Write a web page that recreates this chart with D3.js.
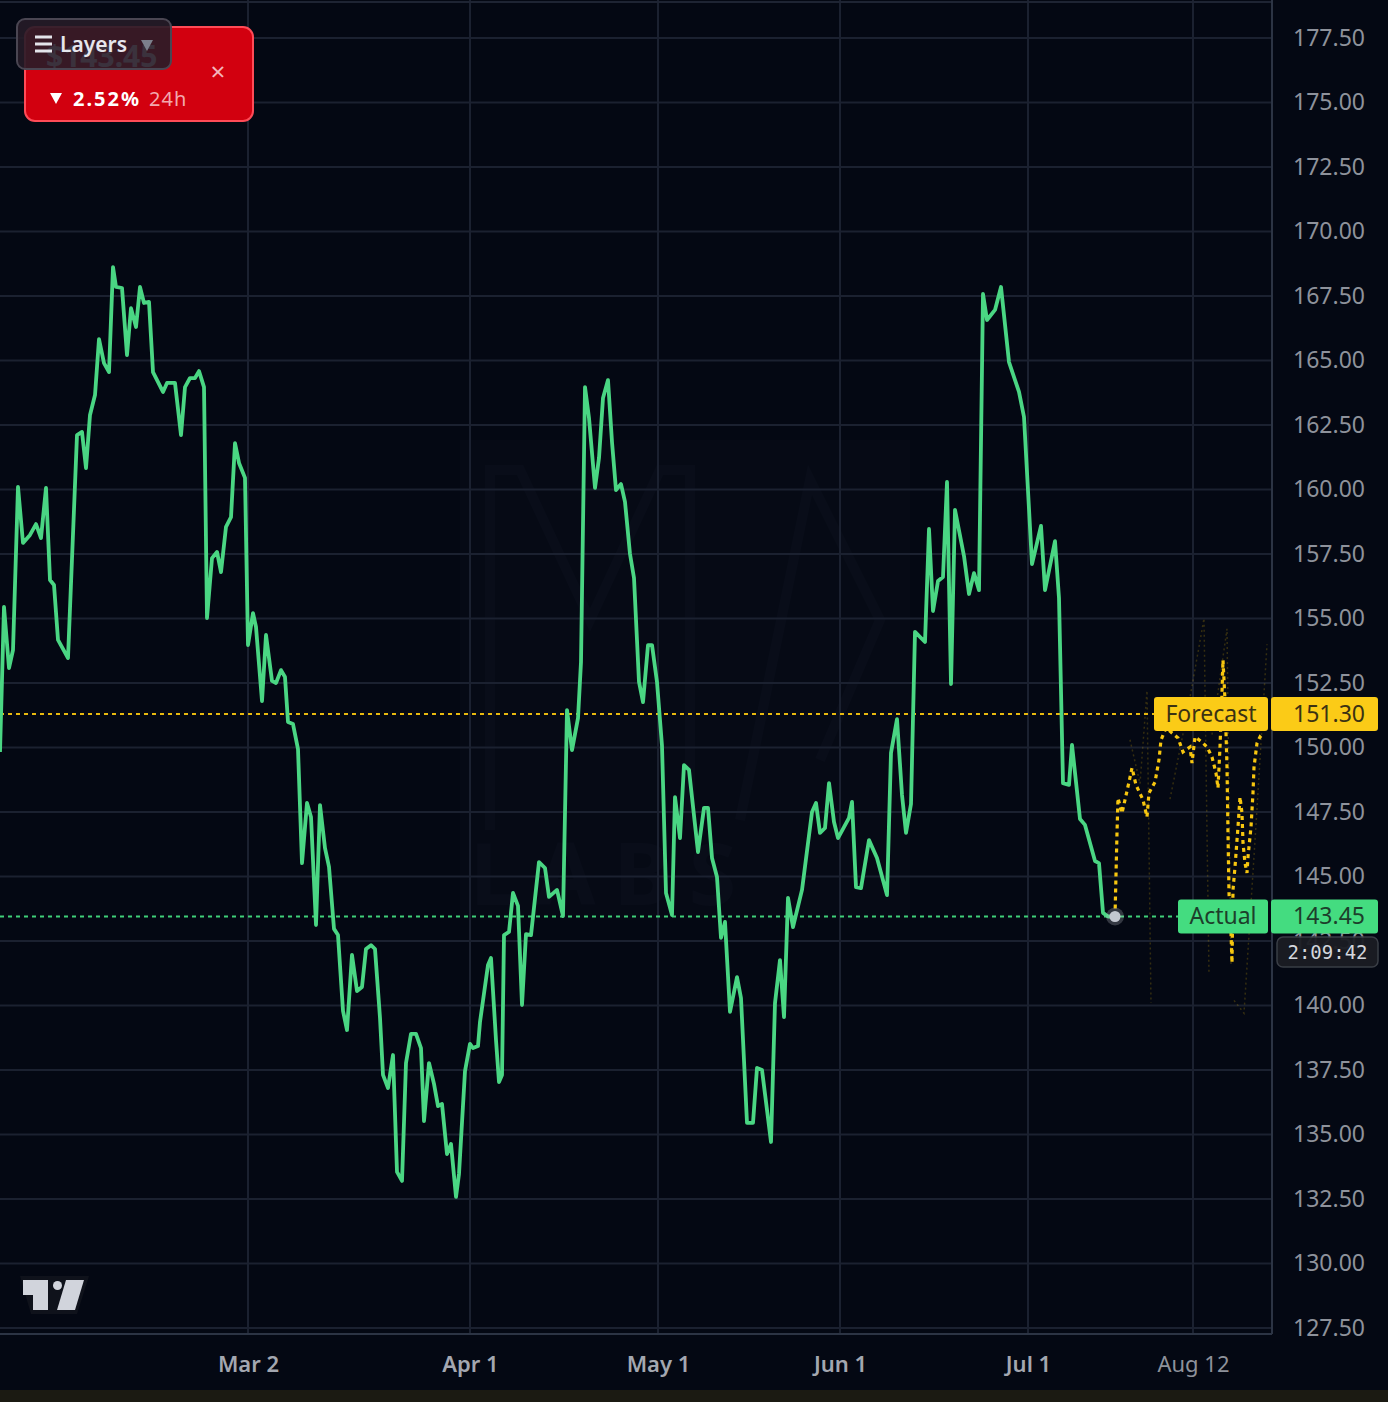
<!DOCTYPE html>
<html>
<head>
<meta charset="utf-8">
<title>Price forecast</title>
<script src="https://cdn.jsdelivr.net/npm/d3@7/dist/d3.min.js"></script>
<style>
  body { margin: 0; background: #040813; }
  svg { display: block; font-family: "Noto Sans", sans-serif; }
</style>
</head>
<body>
<div id="root"></div>
<script>
// ---- data ----
// price axis ticks
const priceTicks = [127.5, 130, 132.5, 135, 137.5, 140, 142.5, 145, 147.5, 150, 152.5, 155,
  157.5, 160, 162.5, 165, 167.5, 170, 172.5, 175, 177.5];
// time axis ticks (bar index) and labels
const dateTicks = [124, 235, 329, 420, 514, 596.5];
const dateLabels = ["Mar 2", "Apr 1", "May 1", "Jun 1", "Jul 1", "Aug 12"];
const dateBold = [true, true, true, true, true, false];

// actual price path: [bar, price]
const actual = [[0,149.83],[2,155.45],[4.5,153.08],[6.5,153.78],[9,160.10],[11.5,157.93],[15,158.24],[18,158.66],
  [20.5,158.12],[23,160.06],[25,156.49],[27,156.30],[29,154.17],[34,153.47],[38.5,162.11],[41,162.23],[43,160.83],
  [45,162.89],[47.5,163.66],[49.5,165.83],[52,164.90],[54.5,164.55],[56.5,168.62],[58,167.85],[61,167.81],
  [63.5,165.21],[65.5,167.03],[68,166.30],[70,167.85],[72,167.23],[74.5,167.27],[76.5,164.55],[81.5,163.78],
  [83.5,164.13],[87.5,164.13],[90.5,162.11],[92.5,163.97],[95,164.32],[97.5,164.32],[99.5,164.59],[102,163.97],
  [103.5,155.02],[106,157.34],[108.5,157.58],[110.5,156.80],[113,158.55],[115.5,158.93],[117.5,161.80],
  [119.5,161.03],[122.5,160.45],[124,153.97],[126.5,155.21],[128,154.67],[131,151.80],[133,154.36],[136,152.58],
  [138,152.50],[140.5,153.00],[142.5,152.73],[144,150.99],[146.5,150.91],[149,149.94],[151,145.52],[153.5,147.85],
  [155.5,147.31],[158,143.12],[160,147.77],[162.5,146.10],[164.5,145.37],[167,142.97],[169,142.73],[171.5,139.79],
  [173.5,139.05],[176,141.96],[178.5,140.56],[181,140.72],[183,142.19],[185.5,142.34],[187.5,142.19],[190,139.52],
  [191.5,137.31],[194,136.80],[196.5,138.08],[198.5,133.55],[201,133.20],[203,137.77],[205.5,138.90],[208,138.90],
  [210.5,138.35],[212,135.52],[214.5,137.77],[217,136.96],[219,136.10],[221,136.18],[223.5,134.24],[225.5,134.63],
  [228,132.58],[229.5,133.47],[232.5,137.46],[235,138.51],[236.5,138.35],[239,138.43],[240,139.36],[244,141.57],
  [245.5,141.84],[248,138.66],[249.5,137.03],[251,137.31],[252,142.73],[254.5,142.85],[256.5,144.36],[259,143.86],
  [261,140.02],[263,142.77],[265.5,142.73],[269.5,145.56],[272.5,145.33],[274.5,144.21],[278.5,144.48],
  [281.5,143.47],[283.5,151.45],[286,149.90],[289,151.14],[290.5,153.31],[292.5,163.97],[294.5,162.77],
  [297.5,160.06],[299.5,161.22],[301.5,163.55],[304,164.24],[306,161.84],[308,159.98],[310.5,160.21],
  [312.5,159.52],[315,157.50],[317,156.57],[319.5,152.54],[321.5,151.76],[324,153.97],[326,153.97],[328.5,152.54],
  [331,150.06],[333,144.36],[336,143.51],[337.5,148.08],[340,146.49],[342,149.32],[344.5,149.13],[349,145.95],
  [352,147.66],[354,147.66],[356,145.72],[358.5,144.98],[360.5,142.62],[362.5,143.24],[365,139.75],[368.5,141.10],
  [370.5,140.29],[373.5,135.45],[376.5,135.45],[378.5,137.58],[381,137.50],[385.5,134.71],[387.5,140.10],
  [390,141.76],[392,139.55],[394,144.17],[396.5,143.04],[401,144.48],[406,147.50],[408,147.85],[410,146.69],
  [412.5,146.88],[414.5,148.62],[417,147.11],[419,146.49],[424.5,147.27],[426,147.89],[428,144.59],[430.5,144.55],
  [434.5,146.41],[438.5,145.72],[443.5,144.28],[445.5,149.79],[448.5,151.10],[451,148.16],[453,146.69],
  [455.5,147.81],[457.5,154.48],[462.5,154.09],[464.5,158.47],[466.5,155.29],[469,156.45],[471.5,156.61],
  [473.5,160.29],[475.5,152.46],[477.5,159.21],[482,157.42],[484.5,155.95],[487,156.76],[489.5,156.10],
  [491.5,167.58],[493.5,166.57],[497.5,166.96],[500.5,167.85],[504.5,164.94],[509.5,163.78],[512,162.81],
  [516,157.11],[520.5,158.59],[522.5,156.10],[527.5,158.00],[529.5,155.79],[531.5,148.62],[534.5,148.55],
  [536,150.10],[540,147.23],[542.5,147.00],[547.5,145.60],[549.5,145.52],[551.5,143.59],[554,143.45],[557.5,143.45]];

// main forecast path: [bar, price]
const forecast = [[557.5,143.45],[558.5,146.69],[559,148.04],[561,147.46],[562.5,147.97],[564.5,148.66],[566,149.21],
  [568,148.55],[571.5,147.97],[573.5,147.31],[574.5,148.24],[577.5,148.66],[579.5,149.52],[580.5,150.29],
  [583,150.76],[589,150.37],[591.5,149.83],[595,150.02],[596,149.40],[597.5,150.41],[601,150.21],[603.5,150.02],
  [606,149.63],[608,149.01],[609,148.43],[610,150.02],[611,152.11],[611.5,153.39],[612.5,151.84],[613,150.56],
  [613.5,149.24],[614,146.69],[614.5,144.36],[615.5,142.81],[616,141.65],[616.5,144.48],[617.5,145.37],
  [618.5,146.41],[619,146.92],[620,148.08],[621,147.46],[621.5,146.30],[622.5,145.52],[623.5,145.14],
  [624,145.76],[625.5,146.92],[626.5,148.24],[627,149.24],[628.5,150.17],[630,150.41],[631.5,150.29]];

// faint alternative forecast paths
const ensembleA = [[565,150.3],[570,148.6],[573.5,152.2],[575.5,140.1]];
const ensembleB = [[585,148.0],[594,151.5],[602,155.0],[604.5,141.2]];
const ensembleC = [[606,150.5],[613.5,154.6],[615.5,141.6]];
const ensembleD = [[617,140.2],[622,139.7],[628,147.0],[633.5,154.0]];

const lastPrice = 143.45;
const forecastPrice = 151.30;
const change24h = "2.52%";
const countdown = "2:09:42";

// ---- layout ----
const width = 1388;
const height = 1402;
const plotRight = 1272;
const plotBottom = 1334;

const x = d3.scaleLinear().domain([0, 636]).range([0, plotRight]);
const y = d3.scaleLinear().domain([127.5, 177.5]).range([1328, 38]);
const fmt = d3.format(".2f");

const svg = d3.select("#root").append("svg")
  .attr("width", width)
  .attr("height", height);

svg.append("rect").attr("width", width).attr("height", height).attr("fill", "#040813");
svg.append("rect").attr("y", 1390).attr("width", width).attr("height", 12).attr("fill", "#1b1a12");

// faint watermark
const wm = svg.append("g").attr("opacity", 0.035).attr("fill", "none").attr("stroke", "#8c96b4").attr("stroke-width", 10);
wm.append("rect").attr("x", 460).attr("y", 440).attr("width", 450).attr("height", 480)
  .attr("fill", "#8c96b4").attr("stroke", "none").attr("opacity", 0.4);
wm.append("path").attr("d", "M490,830 L490,470 L520,470 L590,620 L660,470 L690,470 L690,830");
wm.append("path").attr("d", "M740,820 L810,480 L880,620 L820,760");
wm.append("text").attr("x", 470).attr("y", 905).attr("font-size", 86).attr("font-weight", 700)
  .attr("fill", "#8c96b4").attr("stroke", "none").attr("letter-spacing", 18).text("LABS");

// grid
const grid = svg.append("g").attr("stroke", "#1b2130").attr("stroke-width", 2);
grid.selectAll(".hg").data(priceTicks).enter().append("line")
  .attr("x1", 0).attr("x2", plotRight)
  .attr("y1", d => y(d)).attr("y2", d => y(d));
grid.selectAll(".vg").data(dateTicks).enter().append("line")
  .attr("x1", d => x(d)).attr("x2", d => x(d))
  .attr("y1", 0).attr("y2", plotBottom);

// frame
svg.append("line").attr("x1", 0).attr("x2", plotRight).attr("y1", 2).attr("y2", 2)
  .attr("stroke", "#1e2433").attr("stroke-width", 2);
svg.append("line").attr("x1", plotRight).attr("x2", plotRight).attr("y1", 0).attr("y2", plotBottom)
  .attr("stroke", "#2c3444").attr("stroke-width", 2);
svg.append("line").attr("x1", 0).attr("x2", plotRight).attr("y1", plotBottom).attr("y2", plotBottom)
  .attr("stroke", "#2c3444").attr("stroke-width", 2);

// price reference lines
svg.append("line").attr("x1", 0).attr("x2", 1154)
  .attr("y1", y(forecastPrice)).attr("y2", y(forecastPrice))
  .attr("stroke", "#e8b90f").attr("stroke-width", 2).attr("stroke-dasharray", "4,4");
svg.append("line").attr("x1", 0).attr("x2", 1178)
  .attr("y1", y(lastPrice)).attr("y2", y(lastPrice))
  .attr("stroke", "#3fcf78").attr("stroke-width", 2).attr("stroke-dasharray", "4,4");

const line = d3.line().x(d => x(d[0])).y(d => y(d[1]));

// ensemble paths
svg.selectAll(".ens").data([ensembleA, ensembleB, ensembleC, ensembleD]).enter().append("path")
  .attr("d", line)
  .attr("fill", "none")
  .attr("stroke", "#c9a10c")
  .attr("stroke-width", 1.5)
  .attr("stroke-dasharray", "2,3")
  .attr("opacity", 0.25);

// forecast
svg.append("path").datum(forecast)
  .attr("d", line)
  .attr("fill", "none")
  .attr("stroke", "#f7c60f")
  .attr("stroke-width", 3.2)
  .attr("stroke-dasharray", "4,4");

// actual
svg.append("path").datum(actual)
  .attr("d", line)
  .attr("fill", "none")
  .attr("stroke", "#4ad683")
  .attr("stroke-width", 3.8)
  .attr("stroke-linejoin", "round");

const last = actual[actual.length - 1];
svg.append("circle").attr("cx", x(last[0])).attr("cy", y(last[1])).attr("r", 9)
  .attr("fill", "#c3c7d0").attr("opacity", 0.25);
svg.append("circle").attr("cx", x(last[0])).attr("cy", y(last[1])).attr("r", 5.5)
  .attr("fill", "#c3c7d0");

// price axis
const yAxis = svg.append("g")
  .attr("transform", "translate(" + plotRight + ",0)")
  .call(d3.axisRight(y).tickValues(priceTicks).tickFormat(fmt).tickSize(0).tickPadding(21));
yAxis.select(".domain").remove();
yAxis.selectAll("text")
  .attr("font-family", "Noto Sans, sans-serif")
  .attr("font-size", 23)
  .attr("fill", "#8e929b");

// time axis
const xAxis = svg.append("g")
  .attr("transform", "translate(0," + plotBottom + ")")
  .call(d3.axisBottom(x).tickValues(dateTicks).tickFormat((d, i) => dateLabels[i]).tickSize(0).tickPadding(0));
xAxis.select(".domain").remove();
xAxis.selectAll("text")
  .attr("y", 38)
  .attr("dy", 0)
  .attr("font-family", "Noto Sans, sans-serif")
  .attr("font-size", 22)
  .attr("font-weight", (d, i) => dateBold[i] ? 600 : 400)
  .attr("fill", (d, i) => dateBold[i] ? "#a3a7b0" : "#8e929b");

// tags
function tag(x0, w, yc, fill, label, color) {
  svg.append("rect").attr("x", x0).attr("y", yc - 17).attr("width", w).attr("height", 34)
    .attr("rx", 3).attr("fill", fill);
  svg.append("text").attr("x", x0 + w / 2).attr("y", yc + 8).attr("text-anchor", "middle")
    .attr("font-size", 23).attr("fill", color).text(label);
}
function priceTag(yc, fill, value, color) {
  svg.append("rect").attr("x", 1271).attr("y", yc - 17).attr("width", 107).attr("height", 34)
    .attr("rx", 3).attr("fill", fill);
  svg.append("text").attr("x", 1365).attr("y", yc + 8).attr("text-anchor", "end")
    .attr("font-size", 23).attr("fill", color).text(fmt(value));
}
tag(1154, 114, y(forecastPrice), "#fbcb17", "Forecast", "#3b3213");
priceTag(y(forecastPrice), "#fbcb17", forecastPrice, "#3b3213");
tag(1178, 90, y(lastPrice), "#44dc80", "Actual", "#1d3f2b");
priceTag(y(lastPrice), "#44dc80", lastPrice, "#1d3f2b");

// countdown
svg.append("rect").attr("x", 1277).attr("y", 937).attr("width", 101).attr("height", 30).attr("rx", 6)
  .attr("fill", "#1b1d23").attr("stroke", "#3d4149").attr("stroke-width", 1.5).attr("opacity", 0.95);
svg.append("text").attr("x", 1327.5).attr("y", 959).attr("text-anchor", "middle")
  .attr("font-family", "DejaVu Sans Mono, monospace").attr("font-size", 19).attr("fill", "#d3d6dc")
  .text(countdown);

// TradingView logo
const logo = svg.append("g");
logo.append("path").attr("d", "M20,1276 L89,1276 L77,1314 L31,1314 Z").attr("fill", "#0f121b");
logo.append("path").attr("d", "M23,1280 L48,1280 L48,1310 L33,1310 L33,1295 L23,1295 Z").attr("fill", "#d1d4dc");
logo.append("circle").attr("cx", 57.5).attr("cy", 1285.5).attr("r", 4.5).attr("fill", "#d1d4dc");
logo.append("path").attr("d", "M66,1280 L84,1280 L75,1310 L57,1310 Z").attr("fill", "#d1d4dc");

// top-left price box
svg.append("rect").attr("x", 25).attr("y", 27).attr("width", 228).attr("height", 94).attr("rx", 10)
  .attr("fill", "#d2000f").attr("stroke", "#ff4b57").attr("stroke-width", 2);
svg.append("text").attr("x", 46).attr("y", 67).attr("font-size", 30).attr("font-weight", 700)
  .attr("fill", "#ffffff").text("$" + fmt(lastPrice));
svg.append("text").attr("x", 218).attr("y", 81).attr("text-anchor", "middle")
  .attr("font-size", 26).attr("fill", "#f4b6bb").text("×");
svg.append("path").attr("d", "M50,93 L62,93 L56,104 Z").attr("fill", "#ffffff");
svg.append("text").attr("x", 73).attr("y", 106).attr("font-size", 20).attr("font-weight", 700)
  .attr("letter-spacing", 2).attr("fill", "#ffffff").text(change24h);
svg.append("text").attr("x", 149).attr("y", 106).attr("font-size", 20).attr("letter-spacing", 1)
  .attr("fill", "#f2a8ae").text("24h");

// layers button
svg.append("rect").attr("x", 17).attr("y", 19).attr("width", 154).attr("height", 50).attr("rx", 8)
  .attr("fill", "#261c28").attr("fill-opacity", 0.9).attr("stroke", "#4a4652").attr("stroke-width", 2);
[37, 44, 51].forEach(v => {
  svg.append("rect").attr("x", 35).attr("y", v - 1.5).attr("width", 17).attr("height", 3).attr("fill", "#e4e4ea");
});
svg.append("text").attr("x", 60).attr("y", 52).attr("font-size", 21).attr("font-weight", 600)
  .attr("fill", "#e6e6ec").text("Layers");
svg.append("path").attr("d", "M141,40 L153,40 L147,51 Z").attr("fill", "#7c808c");
</script>
</body>
</html>
